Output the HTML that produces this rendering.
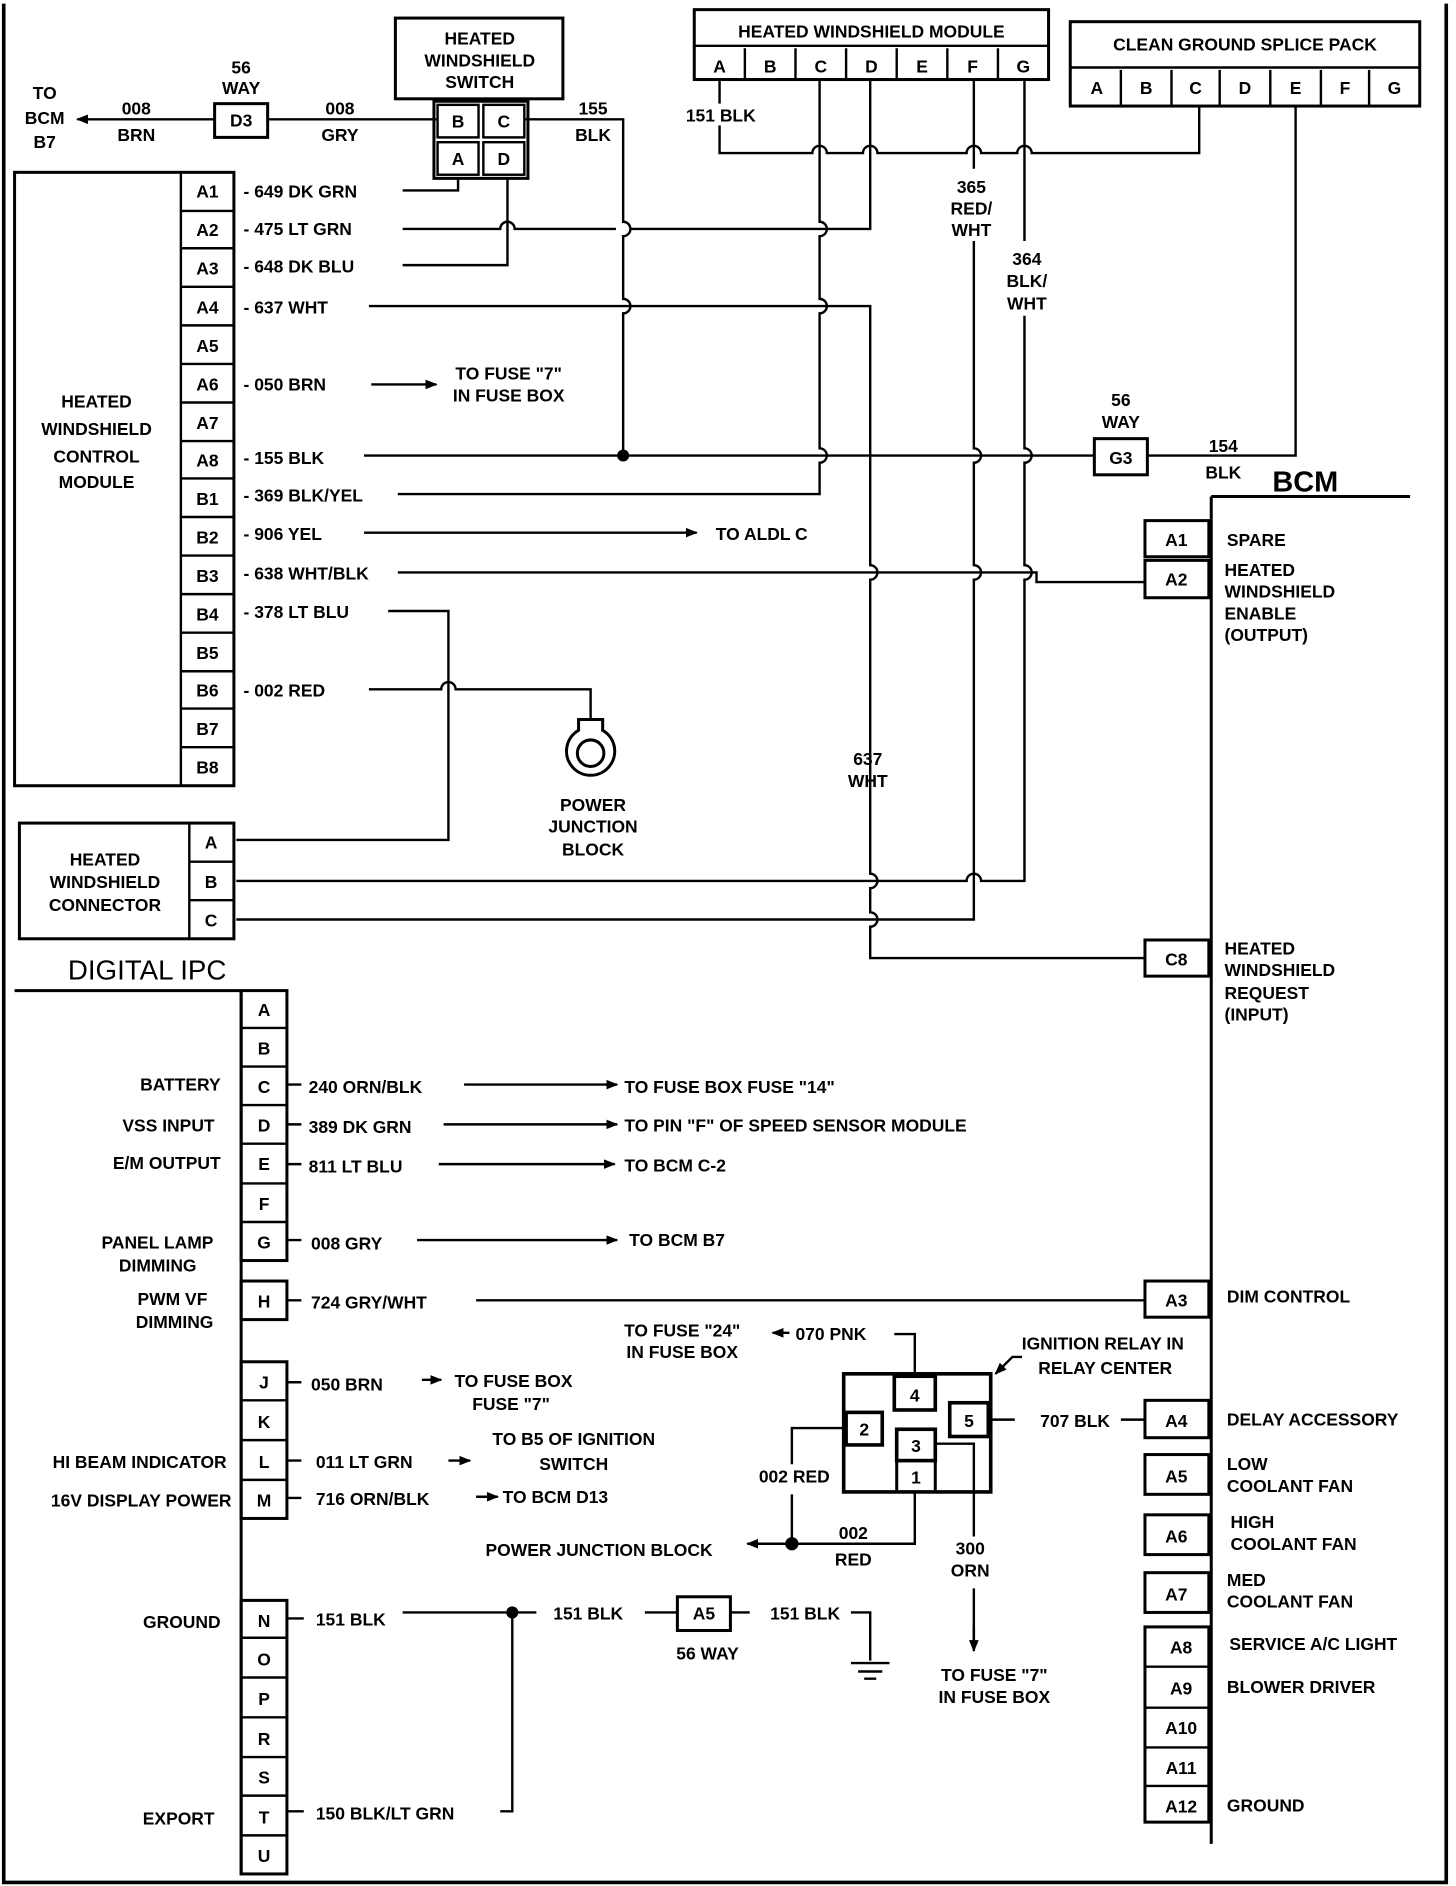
<!DOCTYPE html>
<html><head><meta charset="utf-8"><style>
html,body{margin:0;padding:0;background:#fff}
svg{display:block}
text{font-family:"Liberation Sans",sans-serif;font-weight:bold;font-size:14.5px;fill:#000}
.m{text-anchor:middle}.e{text-anchor:end}
</style></head><body>
<svg width="1456" height="1886" viewBox="0 0 1208 1565" xmlns="http://www.w3.org/2000/svg">
<defs><marker id="ar" markerWidth="10" markerHeight="8" refX="9" refY="4" orient="auto" markerUnits="userSpaceOnUse"><path d="M0,0 L10,4 L0,8 z" fill="#000"/></marker></defs>
<rect x="0" y="0" width="1208" height="1565" fill="#fff"/>
<g fill="none" stroke="#000" stroke-width="2">
<path d="M3 3 V1562 H1200 V3" stroke-width="3"/>
<rect x="328" y="15" width="139" height="67" stroke-width="2.5"/>
<rect x="360" y="84" width="78" height="64" stroke-width="2.5"/>
<rect x="363" y="87" width="34" height="27"/><rect x="401" y="87" width="34" height="27"/>
<rect x="363" y="118" width="34" height="27"/><rect x="401" y="118" width="34" height="27"/>
<rect x="178" y="86" width="44" height="28" stroke-width="2.5"/>
<path d="M362 99 H222"/><path d="M178 99 H64" marker-end="url(#ar)"/>
<rect x="576" y="8" width="294" height="58" stroke-width="2.5"/><path d="M576 38 H870"/>
<path d="M618 40 V66 M660 40 V66 M702 40 V66 M744 40 V66 M786 40 V66 M828 40 V66"/>
<rect x="888" y="18" width="290" height="70" stroke-width="2.5"/><path d="M888 56 H1178"/>
<path d="M930 58 V88 M972 58 V88 M1012 58 V88 M1054 58 V88 M1096 58 V88 M1136 58 V88"/>
<path d="M597 66 V86 M597 104 V127 H674 A6 6 0 0 1 686 127 H716 A6 6 0 0 1 728 127 H802 A6 6 0 0 1 814 127 H844 A6 6 0 0 1 856 127 H995 V88"/>
<path d="M680 66 V184 A6 6 0 0 1 680 196 V248 A6 6 0 0 1 680 260 V372 A6 6 0 0 1 680 384 V410 H330"/>
<path d="M722 66 V190 H523 M511 190 H427 A6 6 0 0 0 415 190 H334"/>
<path d="M436 99 H517 V184 A6 6 0 0 1 517 196 V248 A6 6 0 0 1 517 260 V378"/>
<circle cx="517" cy="378" r="4" fill="#000"/>
<path d="M306 254 H722 V469 A6 6 0 0 1 722 481 V725 A6 6 0 0 1 722 737 V757 A6 6 0 0 1 722 769 V795 H950"/>
<path d="M808 66 V140 M808 200 V372 A6 6 0 0 1 808 384 V469 A6 6 0 0 1 808 481 V763 H196"/>
<path d="M850 66 V200 M850 262 V372 A6 6 0 0 1 850 384 V469 A6 6 0 0 1 850 481 V731 H814 A6 6 0 0 0 802 731 H196"/>
<path d="M302 378 H908"/>
<rect x="908" y="364" width="44" height="30" stroke-width="2.5"/>
<path d="M952 378 H1075 V88"/>
<path d="M330 475 H860 V483 H950"/>
<path d="M302 442 H578" marker-end="url(#ar)"/>
<path d="M308 319 H362" marker-end="url(#ar)"/>
<path d="M334 158 H380 V147 M334 220 H421 V147"/>
<path d="M322 507 H372 V697 H196 M306 572 H366 A6 6 0 0 1 378 572 H490 V597"/>
<path d="M480 597 H500 V606 A20 20 0 1 1 480 606 Z" stroke-width="2.5"/>
<circle cx="490" cy="625" r="11" stroke-width="2.5"/>
<rect x="12" y="143" width="182" height="509" stroke-width="2.5"/>
<path d="M150 143 V652"/>
<path d="M150 175 H194 M150 206 H194 M150 238 H194 M150 270 H194 M150 302 H194 M150 334 H194 M150 366 H194 M150 397 H194 M150 429 H194 M150 461 H194 M150 493 H194 M150 525 H194 M150 557 H194 M150 588 H194 M150 620 H194"/>
<rect x="16" y="683" width="178" height="96" stroke-width="2.5"/>
<path d="M157 683 V779 M157 715 H194 M157 747 H194"/>
<path d="M1005 412 H1170 M1005 412 V1530" stroke-width="2.5"/>
<g stroke-width="2.5">
<rect x="950" y="432" width="53" height="30"/><rect x="950" y="465" width="53" height="31"/>
<rect x="950" y="780" width="53" height="30"/><rect x="950" y="1063" width="53" height="30"/>
<rect x="950" y="1162" width="53" height="31"/><rect x="950" y="1207" width="53" height="33"/>
<rect x="950" y="1257" width="53" height="33"/><rect x="950" y="1305" width="53" height="33"/>
<rect x="950" y="1350" width="53" height="162"/>
</g>
<path d="M950 1383 H1003 M950 1417 H1003 M950 1450 H1003 M950 1482 H1003"/>
<path d="M12 822 H200 M200 822 V1556" stroke-width="2.5"/>
<g stroke-width="2.5">
<rect x="200" y="822" width="38" height="224"/>
<rect x="200" y="1063" width="38" height="32"/>
<rect x="200" y="1130" width="38" height="130"/>
<rect x="200" y="1328" width="38" height="227"/>
</g>
<path d="M200 853 H238 M200 885 H238 M200 917 H238 M200 949 H238 M200 982 H238 M200 1014 H238"/>
<path d="M200 1162 H238 M200 1195 H238 M200 1228 H238"/>
<path d="M200 1359 H238 M200 1392 H238 M200 1425 H238 M200 1458 H238 M200 1490 H238 M200 1523 H238"/>
<path d="M238 900 H250 M238 933 H250 M238 966 H250 M238 1029 H250 M238 1079 H250 M395 1079 H950 M238 1147 H250 M238 1212 H250 M238 1243 H250 M238 1343 H252 M238 1503 H252"/>
<path d="M385 900 H512" marker-end="url(#ar)"/>
<path d="M368 933 H512" marker-end="url(#ar)"/>
<path d="M364 966 H510" marker-end="url(#ar)"/>
<path d="M346 1029 H512" marker-end="url(#ar)"/>
<path d="M350 1145 H366" marker-end="url(#ar)"/>
<path d="M372 1212 H390" marker-end="url(#ar)"/>
<path d="M395 1242 H413" marker-end="url(#ar)"/>
<path d="M334 1338 H445 M425 1338 V1503 H415"/>
<circle cx="425" cy="1338" r="4" fill="#000"/>
<rect x="562" y="1325" width="44" height="28" stroke-width="2.5"/>
<path d="M535 1338 H562 M606 1338 H622 M706 1338 H722 V1378 M706 1380 H738 M712 1387 H732 M717 1393 H727"/>
<rect x="700" y="1140" width="122" height="98" stroke-width="3"/>
<rect x="742" y="1142" width="34" height="28" stroke-width="3"/>
<rect x="702" y="1172" width="30" height="27" stroke-width="3"/>
<rect x="788" y="1164" width="32" height="28" stroke-width="3"/>
<rect x="744" y="1186" width="32" height="26" stroke-width="3"/>
<path d="M744 1212 H776 M744 1212 V1238 M776 1212 V1238" stroke-width="2.5"/>
<path d="M759 1140 V1107 H742"/>
<path d="M655 1106 H641" marker-end="url(#ar)"/>
<path d="M702 1185 H657 V1215 M657 1240 V1281 M759 1238 V1281 H657"/>
<path d="M657 1281 H620" marker-end="url(#ar)"/>
<circle cx="657" cy="1281" r="4.5" fill="#000"/>
<path d="M776 1198 H808 V1275 M808 1318 V1368" />
<path d="M808 1350 V1370" marker-end="url(#ar)"/>
<path d="M820 1178 H842 M930 1178 H950"/>
<path d="M848 1126 H840 L826 1140" marker-end="url(#ar)"/>
</g>
<text x="398" y="37" class="m">HEATED</text><text x="398" y="55" class="m">WINDSHIELD</text><text x="398" y="73" class="m">SWITCH</text>
<text x="380" y="106" class="m">B</text><text x="418" y="106" class="m">C</text><text x="380" y="137" class="m">A</text><text x="418" y="137" class="m">D</text>
<text x="200" y="61" class="m">56</text><text x="200" y="78" class="m">WAY</text>
<text x="200" y="105" class="m">D3</text>
<text x="37" y="82" class="m">TO</text><text x="37" y="103" class="m">BCM</text><text x="37" y="123" class="m">B7</text>
<text x="113" y="95" class="m">008</text><text x="113" y="117" class="m">BRN</text>
<text x="282" y="95" class="m">008</text><text x="282" y="117" class="m">GRY</text>
<text x="492" y="95" class="m">155</text><text x="492" y="117" class="m">BLK</text>
<text x="723" y="31" class="m">HEATED WINDSHIELD MODULE</text>
<text x="597" y="60" class="m">A</text><text x="639" y="60" class="m">B</text><text x="681" y="60" class="m">C</text><text x="723" y="60" class="m">D</text><text x="765" y="60" class="m">E</text><text x="807" y="60" class="m">F</text><text x="849" y="60" class="m">G</text>
<text x="1033" y="42" class="m">CLEAN GROUND SPLICE PACK</text>
<text x="910" y="78" class="m">A</text><text x="951" y="78" class="m">B</text><text x="992" y="78" class="m">C</text><text x="1033" y="78" class="m">D</text><text x="1075" y="78" class="m">E</text><text x="1116" y="78" class="m">F</text><text x="1157" y="78" class="m">G</text>
<text x="598" y="101" class="m">151 BLK</text>
<text x="806" y="160" class="m">365</text><text x="806" y="178" class="m">RED/</text><text x="806" y="196" class="m">WHT</text>
<text x="852" y="220" class="m">364</text><text x="852" y="238" class="m">BLK/</text><text x="852" y="257" class="m">WHT</text>
<text x="80" y="338" class="m">HEATED</text><text x="80" y="361" class="m">WINDSHIELD</text><text x="80" y="384" class="m">CONTROL</text><text x="80" y="405" class="m">MODULE</text>
<text x="172" y="164" class="m">A1</text><text x="172" y="196" class="m">A2</text><text x="172" y="228" class="m">A3</text><text x="172" y="260" class="m">A4</text><text x="172" y="292" class="m">A5</text><text x="172" y="324" class="m">A6</text><text x="172" y="356" class="m">A7</text><text x="172" y="387" class="m">A8</text><text x="172" y="419" class="m">B1</text><text x="172" y="451" class="m">B2</text><text x="172" y="483" class="m">B3</text><text x="172" y="515" class="m">B4</text><text x="172" y="547" class="m">B5</text><text x="172" y="578" class="m">B6</text><text x="172" y="610" class="m">B7</text><text x="172" y="642" class="m">B8</text>
<text x="202" y="164">- 649 DK GRN</text><text x="202" y="195">- 475 LT GRN</text><text x="202" y="226">- 648 DK BLU</text><text x="202" y="260">- 637 WHT</text>
<text x="202" y="324">- 050 BRN</text><text x="202" y="385">- 155 BLK</text><text x="202" y="416">- 369 BLK/YEL</text><text x="202" y="448">- 906 YEL</text><text x="202" y="481">- 638 WHT/BLK</text><text x="202" y="513">- 378 LT BLU</text><text x="202" y="578">- 002 RED</text>
<text x="422" y="315" class="m">TO FUSE "7"</text><text x="422" y="333" class="m">IN FUSE BOX</text>
<text x="632" y="448" class="m">TO  ALDL C</text>
<text x="930" y="337" class="m">56</text><text x="930" y="355" class="m">WAY</text><text x="930" y="385" class="m">G3</text>
<text x="1015" y="375" class="m">154</text><text x="1015" y="397" class="m">BLK</text>
<text x="1083" y="408" class="m" style="font-size:24px">BCM</text>
<text x="976" y="453" class="m">A1</text><text x="976" y="486" class="m">A2</text>
<text x="1018" y="453">SPARE</text><text x="1016" y="478">HEATED</text><text x="1016" y="496">WINDSHIELD</text><text x="1016" y="514">ENABLE</text><text x="1016" y="532">(OUTPUT)</text>
<text x="492" y="673" class="m">POWER</text><text x="492" y="691" class="m">JUNCTION</text><text x="492" y="710" class="m">BLOCK</text>
<text x="720" y="635" class="m">637</text><text x="720" y="653" class="m">WHT</text>
<text x="87" y="718" class="m">HEATED</text><text x="87" y="737" class="m">WINDSHIELD</text><text x="87" y="756" class="m">CONNECTOR</text>
<text x="175" y="704" class="m">A</text><text x="175" y="737" class="m">B</text><text x="175" y="769" class="m">C</text>
<text x="976" y="801" class="m">C8</text>
<text x="1016" y="792">HEATED</text><text x="1016" y="810">WINDSHIELD</text><text x="1016" y="829">REQUEST</text><text x="1016" y="847">(INPUT)</text>
<text x="122" y="813" class="m" style="font-size:23px;font-weight:normal">DIGITAL IPC</text>
<text x="219" y="843" class="m">A</text><text x="219" y="875" class="m">B</text><text x="219" y="907" class="m">C</text><text x="219" y="939" class="m">D</text><text x="219" y="971" class="m">E</text><text x="219" y="1004" class="m">F</text><text x="219" y="1036" class="m">G</text><text x="219" y="1085" class="m">H</text>
<text x="219" y="1152" class="m">J</text><text x="219" y="1185" class="m">K</text><text x="219" y="1218" class="m">L</text><text x="219" y="1250" class="m">M</text>
<text x="219" y="1350" class="m">N</text><text x="219" y="1382" class="m">O</text><text x="219" y="1415" class="m">P</text><text x="219" y="1448" class="m">R</text><text x="219" y="1480" class="m">S</text><text x="219" y="1513" class="m">T</text><text x="219" y="1545" class="m">U</text>
<text x="183" y="905" class="e">BATTERY</text><text x="178" y="939" class="e">VSS INPUT</text><text x="183" y="970" class="e">E/M OUTPUT</text>
<text x="177" y="1036" class="e">PANEL LAMP</text><text x="163" y="1055" class="e">DIMMING</text>
<text x="172" y="1083" class="e">PWM VF</text><text x="177" y="1102" class="e">DIMMING</text>
<text x="188" y="1218" class="e">HI BEAM INDICATOR</text><text x="192" y="1250" class="e">16V DISPLAY POWER</text>
<text x="183" y="1351" class="e">GROUND</text><text x="178" y="1514" class="e">EXPORT</text>
<text x="256" y="907">240 ORN/BLK</text><text x="256" y="940">389 DK GRN</text><text x="256" y="973">811 LT BLU</text><text x="258" y="1037">008 GRY</text><text x="258" y="1086">724 GRY/WHT</text>
<text x="258" y="1154">050 BRN</text><text x="262" y="1218">011 LT GRN</text><text x="262" y="1249">716 ORN/BLK</text>
<text x="262" y="1349">151 BLK</text><text x="262" y="1510">150 BLK/LT GRN</text>
<text x="518" y="907">TO FUSE BOX FUSE "14"</text><text x="518" y="939">TO PIN "F" OF SPEED SENSOR MODULE</text><text x="518" y="972">TO BCM C-2</text><text x="522" y="1034">TO BCM B7</text>
<text x="426" y="1151" class="m">TO FUSE BOX</text><text x="424" y="1170" class="m">FUSE "7"</text>
<text x="476" y="1199" class="m">TO B5 OF IGNITION</text><text x="476" y="1220" class="m">SWITCH</text>
<text x="417" y="1247">TO BCM D13</text>
<text x="976" y="1084" class="m">A3</text><text x="1018" y="1081">DIM CONTROL</text>
<text x="976" y="1184" class="m">A4</text><text x="1018" y="1183">DELAY ACCESSORY</text>
<text x="976" y="1230" class="m">A5</text><text x="1018" y="1220">LOW</text><text x="1018" y="1238">COOLANT FAN</text>
<text x="976" y="1280" class="m">A6</text><text x="1021" y="1268">HIGH</text><text x="1021" y="1286">COOLANT FAN</text>
<text x="976" y="1328" class="m">A7</text><text x="1018" y="1316">MED</text><text x="1018" y="1334">COOLANT FAN</text>
<text x="980" y="1372" class="m">A8</text><text x="1020" y="1369">SERVICE A/C LIGHT</text>
<text x="980" y="1406" class="m">A9</text><text x="1018" y="1405">BLOWER DRIVER</text>
<text x="980" y="1439" class="m">A10</text><text x="980" y="1472" class="m">A11</text><text x="980" y="1504" class="m">A12</text><text x="1018" y="1503">GROUND</text>
<text x="566" y="1109" class="m">TO FUSE "24"</text><text x="566" y="1127" class="m">IN FUSE BOX</text>
<text x="660" y="1112">070 PNK</text>
<text x="915" y="1120" class="m">IGNITION RELAY IN</text><text x="917" y="1140" class="m">RELAY CENTER</text>
<text x="759" y="1163" class="m">4</text><text x="717" y="1191" class="m">2</text><text x="804" y="1184" class="m">5</text><text x="760" y="1205" class="m">3</text><text x="760" y="1231" class="m">1</text>
<text x="892" y="1184" class="m">707 BLK</text>
<text x="659" y="1230" class="m">002 RED</text>
<text x="708" y="1277" class="m">002</text><text x="708" y="1299" class="m">RED</text>
<text x="497" y="1291" class="m">POWER JUNCTION BLOCK</text>
<text x="805" y="1290" class="m">300</text><text x="805" y="1308" class="m">ORN</text>
<text x="825" y="1395" class="m">TO FUSE "7"</text><text x="825" y="1413" class="m">IN FUSE BOX</text>
<text x="488" y="1344" class="m">151 BLK</text><text x="584" y="1344" class="m">A5</text><text x="587" y="1377" class="m">56 WAY</text>
<text x="668" y="1344" class="m">151 BLK</text>
</svg>
</body></html>
